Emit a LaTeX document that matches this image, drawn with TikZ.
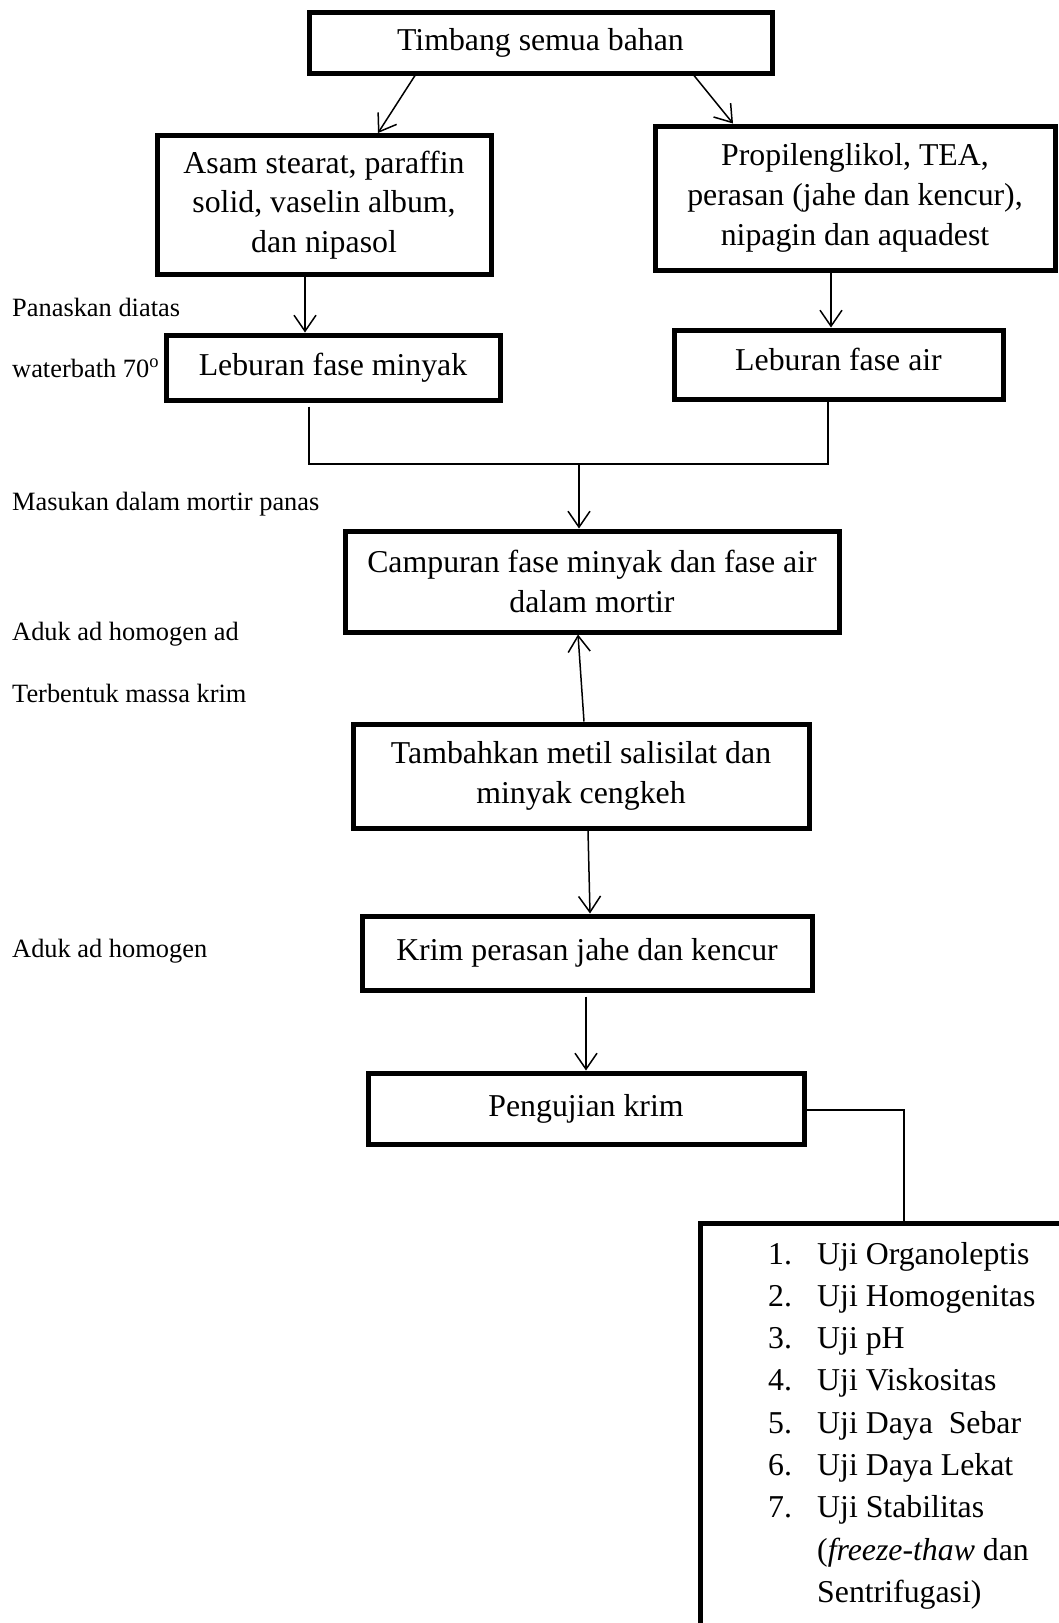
\documentclass[tikz,border=0pt]{standalone}
\usepackage{fontspec}
\setmainfont{Liberation Serif}
\usetikzlibrary{arrows.meta,calc}
\begin{document}
\begin{tikzpicture}[x=1pt,y=-1pt,
  box/.style={draw, line width=5pt, inner sep=0pt, align=center, font=\fontsize{31.8}{39.7}\selectfont},
  one/.style={text height=22pt, text depth=7pt},
  conn/.style={line width=1.5pt},
  arr/.style={conn, -{Straight Barb[length=16pt,width=22pt,line width=1.5pt]}},
  side/.style={anchor=base west, inner sep=0pt, font=\fontsize{26.4}{30}\selectfont},
  item/.style={anchor=base west, inner sep=0pt, font=\fontsize{31.8}{40}\selectfont}]
\path[use as bounding box] (0,0) rectangle (1059,1623);
\clip (0,0) rectangle (1059,1623);

% boxes
\node[box, one, minimum width=463pt, minimum height=61pt] (timbang) at (540.5,42.5) {Timbang semua bahan};
\node[box, minimum width=334pt, minimum height=139pt] (asam) at (324,205) {Asam stearat, paraffin\\solid, vaselin album,\\dan nipasol};
\node[box, minimum width=400pt, minimum height=144pt] (prop) at (855,198) {Propilenglikol, TEA,\\perasan (jahe dan kencur),\\nipagin dan aquadest};
\node[box, one, minimum width=334pt, minimum height=65pt] (lebmin) at (333,367.5) {Leburan fase minyak};
\node[box, minimum width=329pt, minimum height=69pt] (lebair) at (838.5,364.5) {};
\node[anchor=base, inner sep=0pt, font=\fontsize{31.8}{39.7}\selectfont] (lebairtxt) at (838.5,370) {Leburan fase air};
\node[box, minimum width=494pt, minimum height=101pt] (campur) at (592,581.5) {Campuran fase minyak dan fase air\\dalam mortir};
\node[box, minimum width=456pt, minimum height=104pt] (tambah) at (581,776) {Tambahkan metil salisilat dan\\minyak cengkeh};
\node[box, one, minimum width=450pt, minimum height=74pt] (krim) at (587,953) {Krim perasan jahe dan kencur};
\node[box, one, minimum width=436pt, minimum height=71pt] (uji) at (586,1108.5) {Pengujian krim};
\node[box, minimum width=380pt, minimum height=420pt] (ujibox) at (890,1433) {};

% side labels
\node[side] (l1) at (12,316) {Panaskan diatas};
\node[side] (l2) at (12,377) {waterbath 70\textsuperscript{o}};
\node[side] (l3) at (12,510) {Masukan dalam mortir panas};
\node[side] (l4) at (12,640) {Aduk ad homogen ad};
\node[side] (l5) at (12,702) {Terbentuk massa krim};
\node[side] (l6) at (12,957) {Aduk ad homogen};

% list
\node[item] (n1) at (768,1264) {1.};
\node[item] (n2) at (768,1306.3) {2.};
\node[item] (n3) at (768,1348.6) {3.};
\node[item] (n4) at (768,1390.9) {4.};
\node[item] (n5) at (768,1433.2) {5.};
\node[item] (n6) at (768,1475.5) {6.};
\node[item] (n7) at (768,1517.8) {7.};
\node[item] (u1) at (817,1264) {Uji Organoleptis};
\node[item] (u2) at (817,1306.3) {Uji Homogenitas};
\node[item] (u3) at (817,1348.6) {Uji pH};
\node[item] (u4) at (817,1390.9) {Uji Viskositas};
\node[item] (u5) at (817,1433.2) {Uji Daya~ Sebar};
\node[item] (u6) at (817,1475.5) {Uji Daya Lekat};
\node[item] (u7) at (817,1517.8) {Uji Stabilitas};
\node[item] (u8) at (817,1560.1) {(\textit{freeze-thaw} dan};
\node[item] (u9) at (817,1602.4) {Sentrifugasi)};

% connectors
\draw[arr] ([xshift=-125.5pt]timbang.south) -- ([xshift=54pt]asam.north);
\draw[arr] ([xshift=153.5pt]timbang.south) -- ([xshift=-122pt]prop.north);
\draw[arr] ([xshift=-19pt]asam.south) -- ([xshift=-28pt]lebmin.north);
\draw[arr] ([xshift=-24pt]prop.south) -- ([xshift=-7.5pt]lebair.north);

\coordinate (jl) at (309,464);
\coordinate (jr) at (828,464);
\coordinate (jm) at (579,464);
\draw[conn] ([yshift=-4pt]lebmin.south -| jl) -- (jl) -- (jr) -- (lebair.south -| jr);
\draw[arr] (jm) -- (campur.north -| jm);

\draw[arr] ([xshift=3pt]tambah.north) -- ([xshift=-14pt]campur.south);
\draw[arr] ([xshift=7pt]tambah.south) -- ([xshift=3pt]krim.north);
\draw[arr] ([xshift=-1pt,yshift=-4pt]krim.south) -- (uji.north);
\draw[conn] ([yshift=-1.5pt]uji.east) -| ([xshift=14pt]ujibox.north);
\end{tikzpicture}
\end{document}
